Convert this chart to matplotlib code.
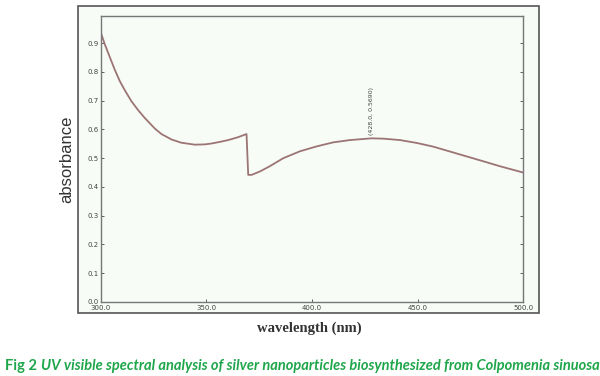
import matplotlib
matplotlib.use("Agg")
import matplotlib.pyplot as plt
from matplotlib.patches import Rectangle

wavelength = [300.0, 301.9, 303.5, 306.6, 309.0, 311.4, 314.5, 317.7, 320.8, 325.6, 328.7,
              333.5, 338.0, 344.5, 349.3, 352.4, 357.2, 360.3, 365.0, 369.0,
              369.8, 371.4, 375.4, 380.0, 386.4, 394.3, 402.2, 410.0, 418.0, 428.0,
              433.7, 441.7, 449.6, 457.5, 465.4, 473.3, 481.2, 489.0, 500.0]
absorbance = [0.937, 0.896, 0.866, 0.808, 0.768, 0.736, 0.698, 0.667, 0.640, 0.603, 0.584,
              0.565, 0.554, 0.547, 0.548, 0.551, 0.558, 0.563, 0.573, 0.584,
              0.442, 0.442, 0.454, 0.472, 0.500, 0.524, 0.541, 0.555, 0.563, 0.569,
              0.568, 0.563, 0.553, 0.540, 0.523, 0.506, 0.489, 0.472, 0.450]
peak_x, peak_y = 428.0, 0.5690
xticks = [300, 350, 400, 450, 500]
yticks = [0.0, 0.1, 0.2, 0.3, 0.4, 0.5, 0.6, 0.7, 0.8, 0.9]

fig = plt.figure(figsize=(6, 3.76), dpi=100)
fig.patch.set_facecolor("white")

# outer frame
fig.patches.append(Rectangle((0.13, 0.1676), 0.768, 0.8164, transform=fig.transFigure,
                             facecolor="#f7fcf7", edgecolor="#555555", linewidth=1.2, zorder=-5))

ax = fig.add_axes([0.168, 0.197, 0.704, 0.760])
ax.set_facecolor("#f7fcf7")
ax.plot(wavelength, absorbance, color="#9c7474", linewidth=1.3, solid_joinstyle="round")
ax.set_xlim(300, 500)
ax.set_ylim(0, 0.994)
ax.set_xticks(xticks)
ax.set_xticklabels([f"{v:.1f}" for v in xticks])
ax.set_yticks(yticks)
ax.set_yticklabels([f"{v:.1f}" for v in yticks])
ax.tick_params(direction="in", length=2, width=0.6, labelsize=5, colors="#444444",
               right=True, pad=1.5)
ax.tick_params(axis="x", pad=2.5)
ax.tick_params(axis="y", labelright=False)
for s in ax.spines.values():
    s.set_color("#777777")
    s.set_linewidth(1.0)

ax.text(peak_x, peak_y + 0.012, f"({peak_x:.1f}, {peak_y:.4f})", rotation=90,
        fontsize=4.5, color="#444444", ha="center", va="bottom")

fig.text(0.112, 0.575, "absorbance", rotation=90, fontsize=12, family="Liberation Sans",
         color="#333333", ha="center", va="center")
fig.text(0.515, 0.128, "wavelength (nm)", fontsize=10.5, family="Liberation Serif",
         fontweight="bold", color="#333333", ha="center", va="center")

fig.text(0.008, 0.027, "Fig 2", fontsize=10.6, family="Lato", fontweight="bold",
         color="#1ea64a", ha="left", va="center")
fig.text(0.069, 0.027, "UV visible spectral analysis of silver nanoparticles biosynthesized from Colpomenia sinuosa",
         fontsize=10.5, family="Lato", fontweight="bold", style="italic",
         color="#1ea64a", ha="left", va="center")

fig.savefig("out.png", dpi=100)
